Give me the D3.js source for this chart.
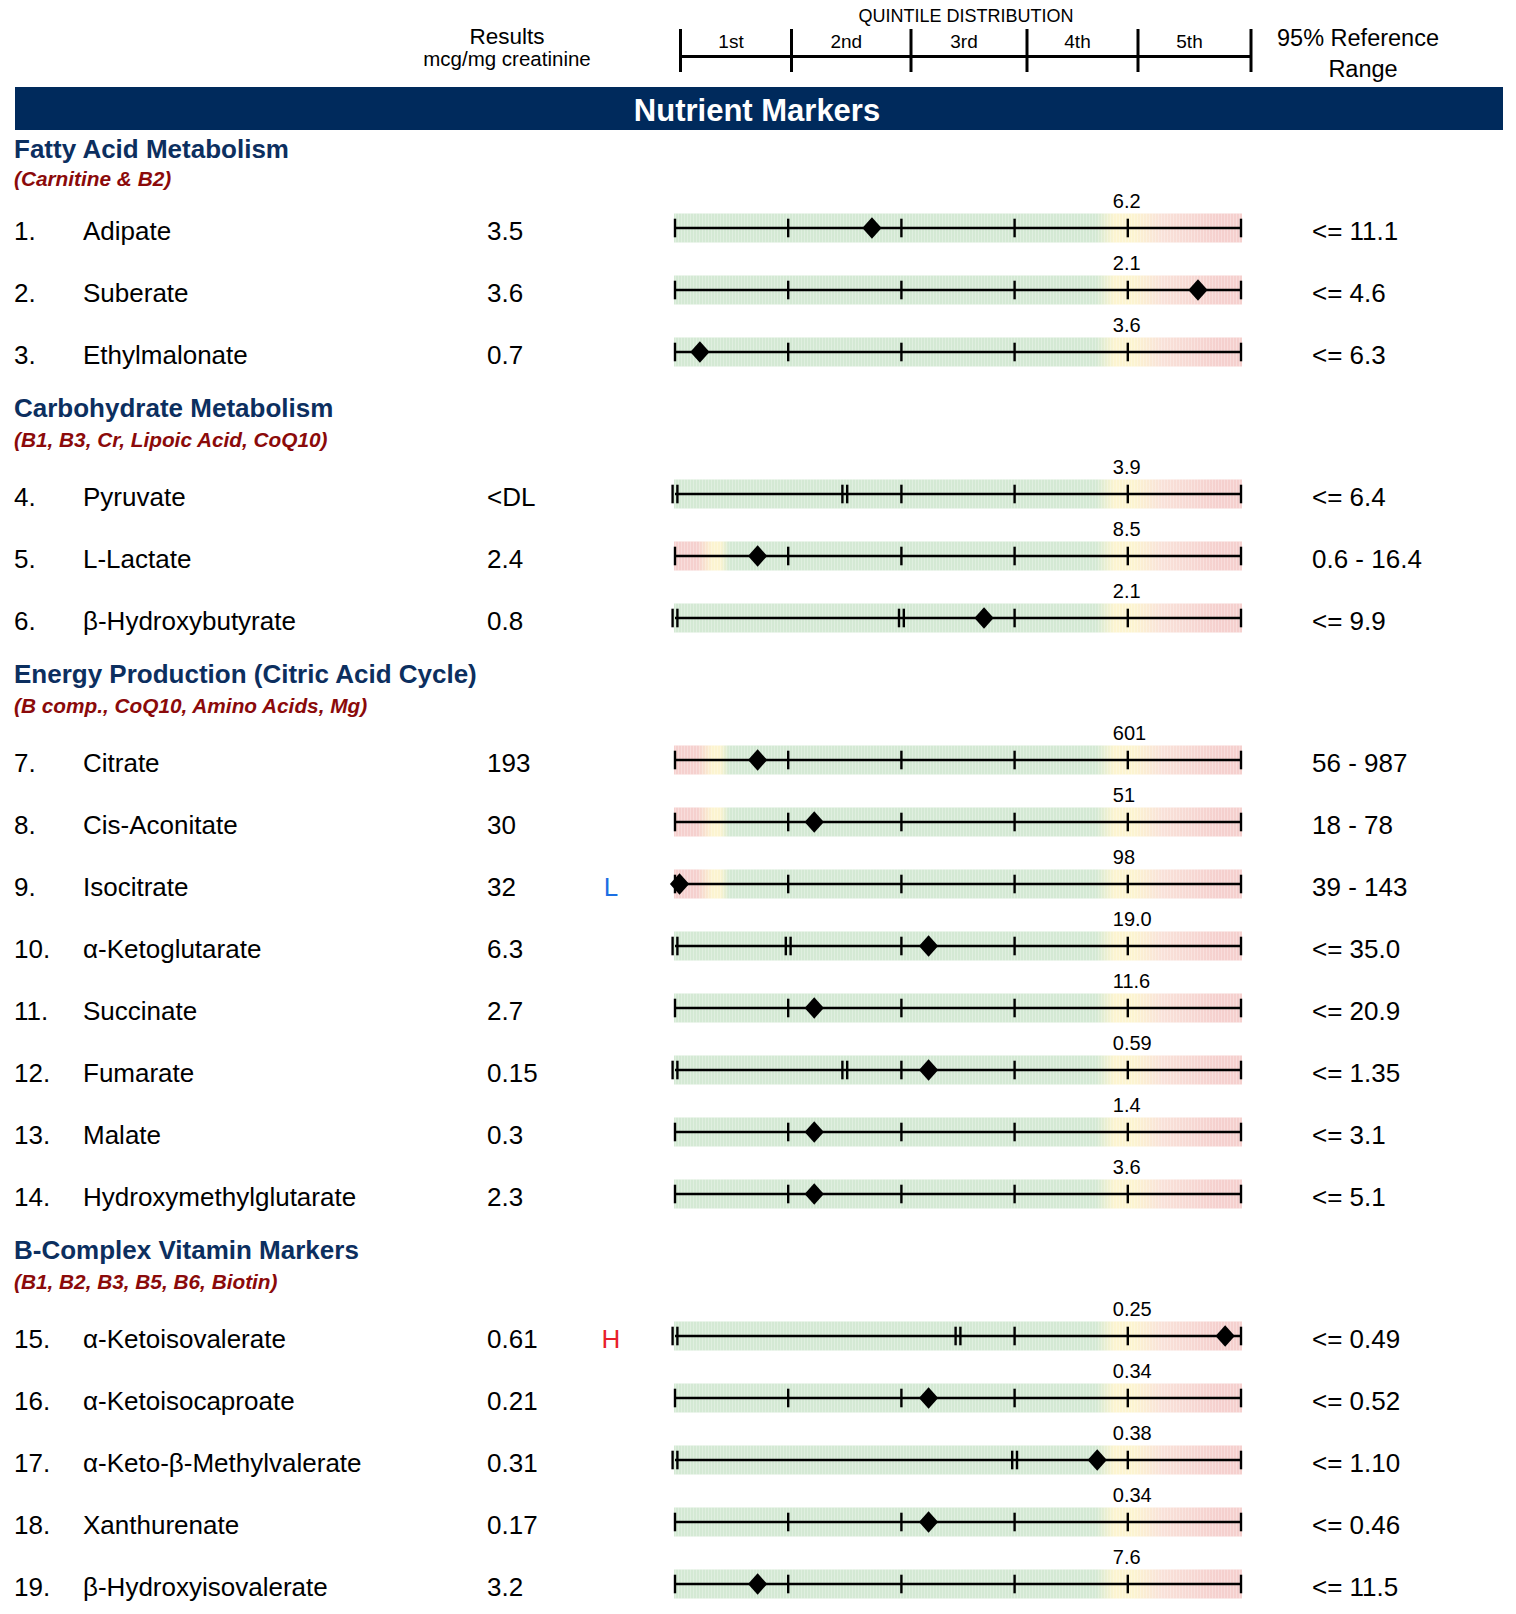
<!DOCTYPE html>
<html>
<head>
<meta charset="utf-8">
<script src="https://cdn.jsdelivr.net/npm/d3@7/dist/d3.min.js"></script>
<style>
  html, body { margin: 0; padding: 0; background: #fff; }
  svg { display: block; font-family: "Liberation Sans", Arial, Helvetica, sans-serif; }
</style>
</head>
<body>
<svg id="chart" width="1516" height="1614"></svg>
<script>
// ---------------- DATA ----------------
const sections = ["Fatty Acid Metabolism", "Carbohydrate Metabolism", "Energy Production (Citric Acid Cycle)", "B-Complex Vitamin Markers"];
const sectionNotes = ["(Carnitine & B2)", "(B1, B3, Cr, Lipoic Acid, CoQ10)", "(B comp., CoQ10, Amino Acids, Mg)", "(B1, B2, B3, B5, B6, Biotin)"];
const rowSection = [0,0,0, 1,1,1, 2,2,2,2,2,2,2,2, 3,3,3,3,3];
const markers = ["Adipate","Suberate","Ethylmalonate","Pyruvate","L-Lactate","β-Hydroxybutyrate","Citrate","Cis-Aconitate","Isocitrate","α-Ketoglutarate","Succinate","Fumarate","Malate","Hydroxymethylglutarate","α-Ketoisovalerate","α-Ketoisocaproate","α-Keto-β-Methylvalerate","Xanthurenate","β-Hydroxyisovalerate"];
const results = ["3.5","3.6","0.7","<DL","2.4","0.8","193","30","32","6.3","2.7","0.15","0.3","2.3","0.61","0.21","0.31","0.17","3.2"];
const flags = ["","","","","","","","","L","","","","","","H","","","",""];
const q4Labels = ["6.2","2.1","3.6","3.9","8.5","2.1","601","51","98","19.0","11.6","0.59","1.4","3.6","0.25","0.34","0.38","0.34","7.6"];
const refRanges = ["<= 11.1","<= 4.6","<= 6.3","<= 6.4","0.6 - 16.4","<= 9.9","56 - 987","18 - 78","39 - 143","<= 35.0","<= 20.9","<= 1.35","<= 3.1","<= 5.1","<= 0.49","<= 0.52","<= 1.10","<= 0.46","<= 11.5"];
// position of the result on the quintile scale (0..5), null = not plotted
const quintilePos = [1.74, 4.62, 0.22, null, 0.73, 2.73, 0.73, 1.23, 0.04, 2.24, 1.23, 2.24, 1.23, 1.23, 4.86, 2.24, 3.73, 2.24, 0.73];
// quintile boundary ticks per row, and which of them are drawn double
const tickSets = [
  [0,1,2,3,4,5],[0,1,2,3,4,5],[0,1,2,3,4,5],
  [0,1.5,2,3,4,5],[0,1,2,3,4,5],[0,2,3,4,5],
  [0,1,2,3,4,5],[0,1,2,3,4,5],[0,1,2,3,4,5],[0,1,2,3,4,5],[0,1,2,3,4,5],[0,1.5,2,3,4,5],[0,1,2,3,4,5],[0,1,2,3,4,5],
  [0,2.5,3,4,5],[0,1,2,3,4,5],[0,3,4,5],[0,1,2,3,4,5],[0,1,2,3,4,5]
];
const doubleTicks = [
  [],[],[],
  [0,1.5],[],[0,2],
  [],[],[],[0,1],[],[0,1.5],[],[],
  [0,2.5],[],[0,3],[],[]
];
// rows whose low end is also out of range (two-sided reference)
const lowWarn = [false,false,false,false,true,false,true,true,true,false,false,false,false,false,false,false,false,false,false];
const quintileNames = ["1st","2nd","3rd","4th","5th"];
const headerBounds = [680.5, 791.5, 911, 1027, 1138, 1251];

// ---------------- LAYOUT ----------------
const svg = d3.select("#chart");
const x = d3.scaleLinear().domain([0, 5]).range([675, 1241]);
const rowY = (i) => 228 + i * 62 + rowSection[i] * 80;
const bandH = 29;
const FS = 26;

const GREEN = "#d4e9d4", YELLOW = "#fcf4d0", PINK = "#f5d0ce", LPINK = "#f9e2d9";

// defs: gradients & stripe texture
const defs = svg.append("defs");
function grad(id, stops) {
  const g = defs.append("linearGradient").attr("id", id)
    .attr("gradientUnits", "userSpaceOnUse")
    .attr("x1", x(0)).attr("x2", x(5)).attr("y1", 0).attr("y2", 0);
  stops.forEach(([u, c]) => g.append("stop").attr("offset", u / 5).attr("stop-color", c));
}
const highStops = [[3.72, GREEN], [3.88, YELLOW], [4.05, YELLOW], [4.3, LPINK], [4.8, PINK], [5, PINK]];
grad("gHigh", [[0, GREEN]].concat(highStops));
grad("gBoth", [[0, PINK], [0.2, PINK], [0.33, YELLOW], [0.4, YELLOW], [0.48, GREEN]].concat(highStops));
const pat = defs.append("pattern").attr("id", "stripes").attr("patternUnits", "userSpaceOnUse")
  .attr("width", 3).attr("height", 10);
pat.append("rect").attr("x", 0).attr("y", 0).attr("width", 1).attr("height", 10).attr("fill", "#fff").attr("opacity", 0.28);

// ---------------- HEADER ----------------
svg.append("text").attr("x", 507).attr("y", 36).attr("dy", "0.35em").attr("text-anchor", "middle")
  .attr("font-size", 22.5).text("Results");
svg.append("text").attr("x", 507).attr("y", 59).attr("dy", "0.35em").attr("text-anchor", "middle")
  .attr("font-size", 20.5).text("mcg/mg creatinine");
svg.append("text").attr("x", 966).attr("y", 16).attr("dy", "0.35em").attr("text-anchor", "middle")
  .attr("font-size", 18).text("QUINTILE DISTRIBUTION");
svg.append("text").attr("x", 1358).attr("y", 38).attr("dy", "0.35em").attr("text-anchor", "middle")
  .attr("font-size", 23.5).text("95% Reference");
svg.append("text").attr("x", 1363).attr("y", 69).attr("dy", "0.35em").attr("text-anchor", "middle")
  .attr("font-size", 23.5).text("Range");

const hdr = svg.append("g").attr("stroke", "#000").attr("stroke-width", 3);
hdr.append("line").attr("x1", headerBounds[0]).attr("x2", headerBounds[5]).attr("y1", 56.5).attr("y2", 56.5);
hdr.selectAll("line.hb").data(headerBounds).join("line").attr("class", "hb")
  .attr("x1", d => d).attr("x2", d => d).attr("y1", 29).attr("y2", 72);
svg.selectAll("text.qn").data(quintileNames).join("text").attr("class", "qn")
  .attr("x", (d, i) => (headerBounds[i] + headerBounds[i + 1]) / 2 - 5)
  .attr("y", 41).attr("dy", "0.35em").attr("text-anchor", "middle").attr("font-size", 19).text(d => d);

// Navy title bar
svg.append("rect").attr("x", 15).attr("y", 87).attr("width", 1488).attr("height", 43).attr("fill", "#002a5c");
svg.append("text").attr("x", 757).attr("y", 110).attr("dy", "0.35em").attr("text-anchor", "middle")
  .attr("font-size", 31).attr("font-weight", "bold").attr("fill", "#fff").text("Nutrient Markers");

// ---------------- SECTIONS ----------------
sections.forEach((s, si) => {
  const first = rowSection.indexOf(si);
  const y0 = rowY(first);
  const tOff = si === 0 ? 79 : 86;
  const nOff = si === 0 ? 49 : 54;
  svg.append("text").attr("x", 14).attr("y", y0 - tOff).attr("dy", "0.35em")
    .attr("font-size", 26).attr("font-weight", "bold").attr("fill", "#0c2f5f").text(s);
  svg.append("text").attr("x", 14).attr("y", y0 - nOff).attr("dy", "0.35em")
    .attr("font-size", 20.8).attr("font-weight", "bold").attr("font-style", "italic")
    .attr("fill", "#8b0a0a").text(sectionNotes[si]);
});

// ---------------- ROWS ----------------
const diamond = {
  draw(ctx, size) {
    const w = Math.sqrt(size / 2) * 0.95, h = Math.sqrt(size / 2) * 1.05;
    ctx.moveTo(0, -h); ctx.lineTo(w, 0); ctx.lineTo(0, h); ctx.lineTo(-w, 0); ctx.closePath();
  }
};
const symPath = d3.symbol().type(diamond).size(205)();

markers.forEach((m, i) => {
  const y = rowY(i);
  const ty = y + 3;
  const g = svg.append("g");
  // texts
  g.append("text").attr("x", 14).attr("y", ty).attr("dy", "0.35em").attr("font-size", FS).text((i + 1) + ".");
  g.append("text").attr("x", 83).attr("y", ty).attr("dy", "0.35em").attr("font-size", FS).text(m);
  g.append("text").attr("x", 487).attr("y", ty).attr("dy", "0.35em").attr("font-size", FS).text(results[i]);
  if (flags[i]) {
    g.append("text").attr("x", 611).attr("y", ty).attr("dy", "0.35em").attr("text-anchor", "middle")
      .attr("font-size", FS).attr("fill", flags[i] === "H" ? "#e8202a" : "#1b6fe3").text(flags[i]);
  }
  g.append("text").attr("x", 1312).attr("y", ty).attr("dy", "0.35em").attr("font-size", FS).text(refRanges[i]);

  // band
  g.append("rect").attr("x", x(0) - 1).attr("y", y - bandH / 2).attr("width", x(5) - x(0) + 2).attr("height", bandH)
    .attr("fill", lowWarn[i] ? "url(#gBoth)" : "url(#gHigh)");
  g.append("rect").attr("x", x(0) - 1).attr("y", y - bandH / 2).attr("width", x(5) - x(0) + 2).attr("height", bandH)
    .attr("fill", "url(#stripes)");

  // 4th quintile boundary label
  g.append("text").attr("x", x(4) - 15).attr("y", y - 27).attr("dy", "0.35em").attr("font-size", 20).text(q4Labels[i]);

  // axis line
  g.append("line").attr("x1", x(0)).attr("x2", x(5)).attr("y1", y).attr("y2", y)
    .attr("stroke", "#000").attr("stroke-width", 2.6);
  // ticks
  const tks = [];
  tickSets[i].forEach(t => {
    if (doubleTicks[i].includes(t)) { tks.push(x(t) - 2.4); tks.push(x(t) + 2.4); }
    else tks.push(x(t));
  });
  g.selectAll("line.tk").data(tks).join("line").attr("class", "tk")
    .attr("x1", d => d).attr("x2", d => d).attr("y1", y - 9.3).attr("y2", y + 9.3)
    .attr("stroke", "#000").attr("stroke-width", 2.4);
  // diamond
  if (quintilePos[i] !== null) {
    g.append("path").attr("d", symPath)
      .attr("transform", `translate(${x(quintilePos[i])},${y})`).attr("fill", "#000");
  }
});
</script>
</body>
</html>
